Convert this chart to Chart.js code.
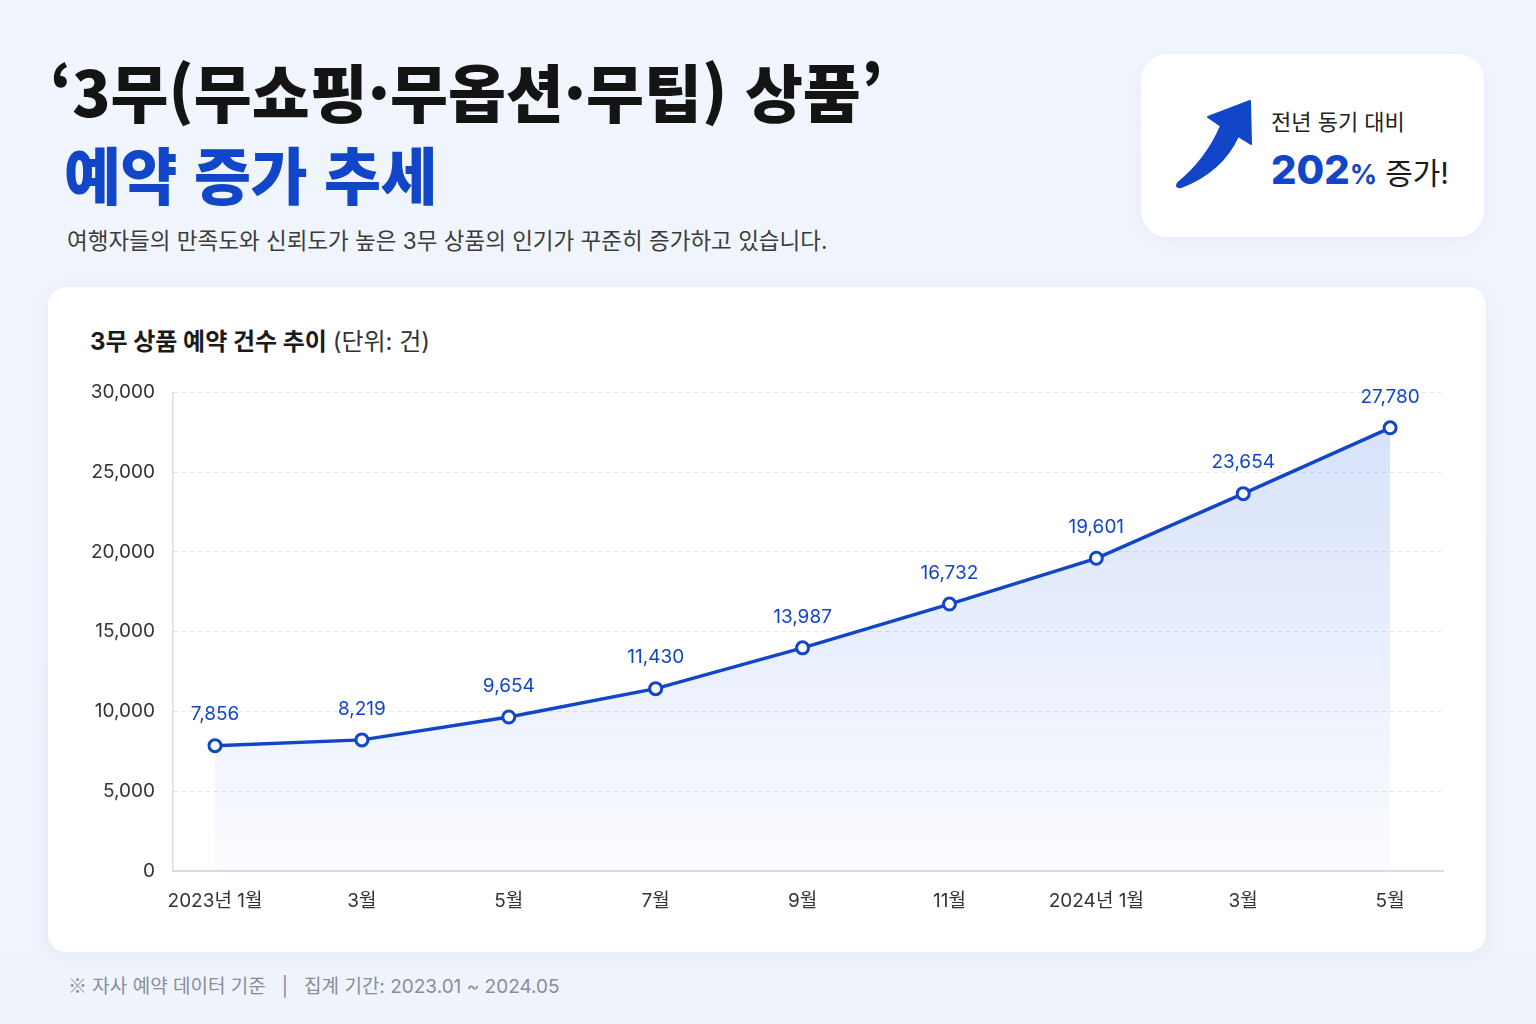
<!DOCTYPE html>
<html lang="ko">
<head>
<meta charset="utf-8">
<script src="https://cdn.jsdelivr.net/npm/chart.js@4.4.1/dist/chart.umd.min.js"></script>
<style>
  html, body { margin: 0; padding: 0; }
  body {
    width: 1536px; height: 1024px; position: relative; overflow: hidden;
    background: linear-gradient(180deg, #f1f5fd 0%, #eef3fc 100%);
    font-family: Inter, "Noto Sans CJK KR", "Noto Sans", sans-serif;
  }
  .title1 { position: absolute; left: 50px; top: 50px; font-size: 63px; font-weight: 900; color: #141414; letter-spacing: 0; line-height: 80px; white-space: nowrap; font-family: "Noto Sans CJK KR", sans-serif; }
  .title2 { position: absolute; left: 64px; top: 133px; font-size: 62px; font-weight: 900; color: #1246c8; letter-spacing: -0.5px; line-height: 80px; white-space: nowrap; font-family: "Noto Sans CJK KR", sans-serif; }
  .sub { position: absolute; left: 67px; top: 226px; font-size: 22.5px; color: #3c3c3c; line-height: 30px; white-space: nowrap; }
  .badge { position: absolute; left: 1141px; top: 54px; width: 343px; height: 183px; background: #fff; border-radius: 26px; box-shadow: 0 4px 18px rgba(40,80,160,0.05); }
  .badge svg { position: absolute; left: 29px; top: 41px; }
  .badge .l1 { position: absolute; left: 130px; top: 50px; font-size: 22px; color: #222; white-space: nowrap; }
  .badge .l2 { position: absolute; left: 130px; top: 91px; white-space: nowrap; color: #1a1a1a; font-size: 30px; }
  .badge .l2 b { color: #1246c8; font-size: 40px; font-weight: 800; }
  .badge .l2 small { color: #1246c8; font-size: 27px; font-weight: 700; margin-right: 8px; }
  .card { position: absolute; left: 48px; top: 287px; width: 1438px; height: 665px; background: #fff; border-radius: 18px; box-shadow: 0 4px 20px rgba(40,80,160,0.06); }
  .ctitle { position: absolute; left: 42px; top: 35px; font-size: 24px; font-weight: 700; color: #1a1a1a; white-space: nowrap; }
  .ctitle span { font-weight: 400; color: #333; }
  .chartbox { position: absolute; left: 0; top: 76px; width: 1438px; height: 577px; }
  .foot { position: absolute; left: 68px; top: 971px; font-size: 19px; color: #8a8d94; white-space: nowrap; }
  .foot i { font-style: normal; font-family: "Noto Sans CJK KR", sans-serif; }
</style>
</head>
<body>
<div class="title1">‘3무(무쇼핑·무옵션·무팁) 상품’</div>
<div class="title2">예약 증가 추세</div>
<div class="sub">여행자들의 만족도와 신뢰도가 높은 3무 상품의 인기가 꾸준히 증가하고 있습니다.</div>

<div class="badge">
  <svg width="90" height="95" viewBox="0 0 90 95">
    <path d="M80,6 L38,22 L51,31 C42,52 28,72 8,88 Q5,93 11,92 C40,81 58,63 68,41 L81,49 Z" fill="#1246c8" stroke="#1246c8" stroke-width="2" stroke-linejoin="round"/>
  </svg>
  <div class="l1">전년 동기 대비</div>
  <div class="l2"><b>202</b><small>%</small>증가!</div>
</div>

<div class="card">
  <div class="ctitle">3무 상품 예약 건수 추이 <span>(단위: 건)</span></div>
  <div class="chartbox"><canvas id="trend"></canvas></div>
</div>

<div class="foot"><i>※</i> 자사 예약 데이터 기준 &nbsp;&nbsp;|&nbsp;&nbsp; 집계 기간: 2023.01 ~ 2024.05</div>

<script>
const months = ['2023년 1월', '3월', '5월', '7월', '9월', '11월', '2024년 1월', '3월', '5월'];
const bookings = [7856, 8219, 9654, 11430, 13987, 16732, 19601, 23654, 27780];
const yTicks = [0, 5000, 10000, 15000, 20000, 25000, 30000];

const blue = '#1246c8';
const fontFamily = 'Inter, "Noto Sans CJK KR", "Noto Sans", sans-serif';

// value labels above each point
const valueLabels = {
  id: 'valueLabels',
  afterDatasetsDraw(chart) {
    const ctx = chart.ctx;
    const meta = chart.getDatasetMeta(0);
    ctx.save();
    ctx.font = '19px ' + fontFamily;
    ctx.fillStyle = blue;
    ctx.textAlign = 'center';
    ctx.textBaseline = 'middle';
    meta.data.forEach((pt, i) => {
      ctx.fillText(bookings[i].toLocaleString('en-US'), pt.x, pt.y - 31);
    });
    ctx.restore();
  }
};

const ctx = document.getElementById('trend').getContext('2d');
new Chart(ctx, {
  type: 'line',
  data: {
    datasets: [{
      data: bookings.map((v, i) => ({ x: i, y: v })),
      borderColor: blue,
      borderWidth: 3.5,
      tension: 0,
      fill: 'origin',
      backgroundColor: (c) => {
        const area = c.chart.chartArea;
        if (!area) return 'rgba(40,100,230,0.1)';
        const g = c.chart.ctx.createLinearGradient(0, area.top, 0, area.bottom);
        g.addColorStop(0, 'rgba(40,100,230,0.20)');
        g.addColorStop(1, 'rgba(40,100,230,0.02)');
        return g;
      },
      pointRadius: 6,
      pointHoverRadius: 6,
      pointBackgroundColor: '#fff',
      pointBorderColor: blue,
      pointBorderWidth: 3
    }]
  },
  options: {
    responsive: true,
    maintainAspectRatio: false,
    animation: false,
    layout: { padding: { top: 13, right: 43, left: 0, bottom: 0 } },
    plugins: {
      legend: { display: false },
      tooltip: { enabled: false }
    },
    scales: {
      x: {
        type: 'linear',
        min: -0.286,
        max: 8.36,
        grid: { display: false },
        border: { display: true, color: '#d9dce2', width: 2 },
        afterFit: (scale) => { scale.height = 69; },
        ticks: {
          stepSize: 1,
          includeBounds: false,
          autoSkip: false,
          maxRotation: 0,
          padding: 11,
          color: '#333',
          font: { size: 19, family: fontFamily },
          callback: (v) => months[v] || ''
        }
      },
      y: {
        min: yTicks[0],
        max: yTicks[yTicks.length - 1],
        afterFit: (scale) => { scale.width = 125; },
        grid: { color: '#e2e5ea', drawTicks: false, lineWidth: 1 },
        border: { display: true, color: '#d9dce2', width: 1.5, dash: [4, 4] },
        afterBuildTicks: (scale) => { scale.ticks = yTicks.map(v => ({ value: v })); },
        ticks: {
          padding: 18,
          color: '#333',
          font: { size: 19, family: fontFamily },
          callback: (v) => v.toLocaleString('en-US')
        }
      }
    }
  },
  plugins: [valueLabels]
});
</script>
</body>
</html>
